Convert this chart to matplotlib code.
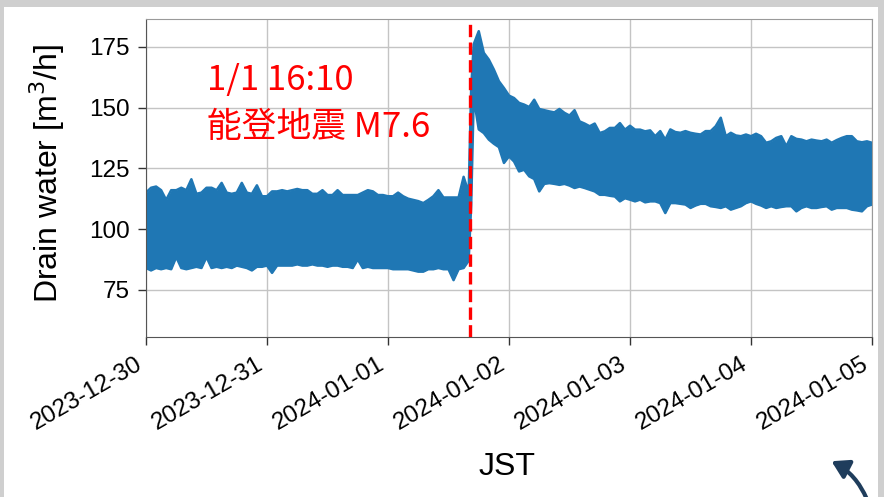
import numpy as np
import pandas as pd
import matplotlib
matplotlib.use('Agg')
import matplotlib.pyplot as plt
import matplotlib.dates as mdates
from matplotlib.patches import Rectangle, FancyArrowPatch

# 読み取った値: 1時間ごとの上側・下側の包絡線 (2023-12-30 00:00 JST からの時間)
hours = list(range(0, 65)) + [64.5] + list(range(65, 145))

upper_before = [115, 117, 117.5, 116, 112, 116, 116, 117, 116, 120.5,
                114.5, 115, 117, 117, 116, 119, 115, 114.5, 115, 119,
                115, 114.5, 118, 113.5, 113.5, 115.5, 115.5, 116, 115.5, 116,
                116.5, 116, 116, 114.5, 114.5, 116, 114, 114, 116, 114,
                114, 114, 114, 115, 116, 115.5, 114, 114, 113.5, 113.5,
                115, 113.5, 112.5, 112, 111.5, 110.7, 112, 113.5, 116, 113,
                113, 113, 113, 121.5, 115]
lower_before = [84, 83, 84, 83.5, 84, 83.5, 88.5, 84, 83.5, 84,
                84.5, 84, 88.5, 84, 84.5, 84, 84.5, 84, 85, 84.5,
                84, 83, 84.5, 84.5, 85, 82, 85, 85, 85, 85,
                85.5, 85, 85, 85.5, 85, 85, 84.5, 85, 85, 84.5,
                84.5, 84, 87.5, 84, 84.5, 84, 84, 84, 84, 83.5,
                83.5, 83.5, 83.5, 83, 82.5, 82.5, 83.5, 83.5, 84, 83.5,
                83.5, 79, 83.5, 84, 87]
upper_after = [158,
               176, 181.4, 172.5, 169.7, 165.6, 160.8, 158, 154.9, 153.9, 151.9,
               151.2, 150.2, 153.2, 149.4, 148.9, 148.4, 148, 149.4, 147.8, 146.7,
               148.9, 144.3, 143.4, 142.3, 143.4, 139.5, 140.2, 141.6, 141.6, 143.6,
               140.9, 142.5, 140.9, 140.9, 140.2, 140.6, 138.2, 140.3, 136.8, 141,
               139.9, 139.6, 140.3, 139.6, 139.2, 138.9, 140.3, 140.3, 142.3, 145.8,
               138.2, 139.6, 138.5, 138.2, 138.9, 138.2, 139.2, 138.2, 135.5, 136.1,
               137.5, 138.2, 134.1, 138.2, 137.1, 136.8, 136.1, 136.8, 136.4, 136.1,
               136.8, 135.5, 136.6, 137.5, 138.2, 138.2, 136.1, 135.7, 136.1, 135.5]
lower_after = [110,
               154, 141, 139.5, 136.8, 135.1, 133.7, 127.2, 129.9, 127.8, 123.7,
               124.4, 121.7, 120.6, 115.5, 118.6, 118.9, 118.6, 118.2, 118.6, 117.9,
               116.9, 117.5, 116.9, 116.2, 115.5, 114.1, 114.1, 113.7, 113.4, 111.4,
               112.7, 112.1, 111.4, 112.1, 111, 111.4, 111.4, 110.7, 106.6, 110.7,
               110.7, 110.4, 110.1, 108.7, 109.7, 110.4, 110.4, 109.4, 109.1, 108.7,
               109.4, 108, 108.7, 109.4, 110.7, 111.4, 110.4, 109.7, 108.7, 109.4,
               108.7, 109.1, 109.4, 109.4, 107.3, 108.7, 109.4, 108.7, 108.7, 109.1,
               109.4, 108, 108.7, 108.7, 108.7, 108, 107.7, 107.3, 109.4, 110.1]

drain_upper = upper_before + upper_after
drain_lower = lower_before + lower_after

start = pd.Timestamp('2023-12-30 00:00')
end = pd.Timestamp('2024-01-05 00:00')
quake_time = pd.Timestamp('2024-01-01 16:10')
yticks = [75, 100, 125, 150, 175]

t = start + pd.to_timedelta(hours, unit='h')

fig = plt.figure(figsize=(8.84, 4.97), dpi=100)
fig.patch.set_facecolor('#cfcfcf')
# スライドの白い背景
fig.add_artist(Rectangle((4 / 884, 0), 874 / 884, 490 / 497,
                         transform=fig.transFigure, facecolor='white',
                         edgecolor='none', zorder=0))

ax = fig.add_axes([146 / 884, 1 - 337.3 / 497, 726 / 884, 318.3 / 497])

blue = '#1f77b4'
ax.fill_between(t, drain_lower, drain_upper, color=blue,
                linewidth=0, zorder=2)
ax.plot(t, drain_upper, color=blue, lw=1.8, solid_joinstyle='round', zorder=2)
ax.plot(t, drain_lower, color=blue, lw=1.8, solid_joinstyle='round', zorder=2)

ax.axvline(quake_time, color='red', ls='--', lw=2.4, zorder=3)

ax.set_xlim(start, end)
ax.set_ylim(55.5, 186.4)
ax.set_yticks(yticks)
ax.xaxis.set_major_locator(mdates.DayLocator())
ax.xaxis.set_major_formatter(mdates.DateFormatter('%Y-%m-%d'))

ax.grid(True, color='#c4c4c4', lw=1, zorder=1)
ax.set_axisbelow(True)
for side in ['left', 'bottom']:
    ax.spines[side].set_color('#555555')
for side in ['top', 'right']:
    ax.spines[side].set_color('#9a9a9a')

tick_font = {'family': 'Liberation Sans', 'size': 17.5}
ax.tick_params(axis='both', direction='out', length=5.5, width=1,
               color='#333333', pad=6)
for lab in ax.get_yticklabels():
    lab.set_fontproperties(tick_font)
for lab in ax.get_xticklabels():
    lab.set_fontproperties(tick_font)
    lab.set_rotation(30)
    lab.set_ha('right')

ax.set_ylabel('Drain water [m$^3$/h]', family='Liberation Sans', fontsize=23)
ax.yaxis.set_label_coords(-0.109, 0.515)
ax.set_xlabel('JST', family='Liberation Sans', fontsize=23)
ax.xaxis.set_label_coords(0.497, -0.4326)
ax.xaxis.label.set_va('baseline')

# 注記
note_font = ['Noto Sans CJK JP', 'DejaVu Sans']
fig.text(206.7 / 884, 1 - 90 / 497, '1/1 16:10', color='red',
         family=note_font, fontsize=25, va='baseline')
fig.text(206.7 / 884, 1 - 136.7 / 497, '能登地震 M7.6', color='red',
         family=note_font, fontsize=25, va='baseline')

# 右下の矢印
arrow = FancyArrowPatch((868 / 884, -0.01), (829 / 884, 1 - 460 / 497),
                        transform=fig.transFigure,
                        connectionstyle='arc3,rad=0.2',
                        arrowstyle='-|>,head_length=10,head_width=6',
                        color='#1f3d5c', lw=3, zorder=5)
fig.add_artist(arrow)

fig.savefig('out.png', dpi=100, facecolor=fig.get_facecolor())
